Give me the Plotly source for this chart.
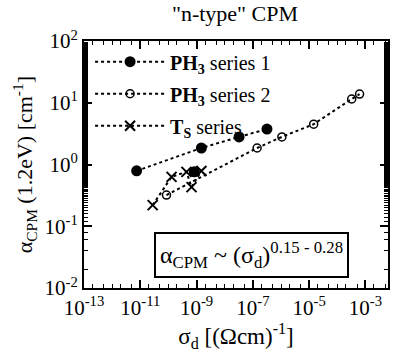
import plotly.graph_objects as go

# data (sigma_d in (Ohm cm)^-1, alpha in cm^-1)
s1_sigma = [10**-11.13, 10**-8.83, 10**-7.49, 10**-6.50]
s1_alpha = [0.79, 1.85, 2.8, 3.75]
s1_extra_sigma = [10**-9.08]
s1_extra_alpha = [0.76]

s2_sigma = [10**-10.07, 10**-6.85, 10**-5.97, 10**-4.84, 10**-3.49, 10**-3.21]
s2_alpha = [0.32, 1.85, 2.8, 4.5, 11.5, 13.8]

ts_sigma = [10**-10.56, 10**-9.89, 10**-9.36, 10**-9.18, 10**-8.83]
ts_alpha = [0.22, 0.63, 0.76, 0.43, 0.785]

x_tickvals = [1e-13, 1e-11, 1e-9, 1e-7, 1e-5, 1e-3]
x_ticktext = ["10<sup>-13</sup>", "10<sup>-11</sup>", "10<sup>-9</sup>", "10<sup>-7</sup>", "10<sup>-5</sup>", "10<sup>-3</sup>"]
y_tickvals = [1e-2, 1e-1, 1e0, 1e1, 1e2]
y_ticktext = ["10<sup>-2</sup>", "10<sup>-1</sup>", "10<sup>0</sup>", "10<sup>1</sup>", "10<sup>2</sup>"]

FONT = "Liberation Serif"
line_style = dict(color="black", width=2, dash="dot")

fig = go.Figure()
fig.add_trace(go.Scatter(x=s1_sigma, y=s1_alpha, mode="lines+markers", name="<b>PH<sub>3</sub></b> series 1",
                         line=line_style, marker=dict(symbol="circle", size=11, color="black"),
                         legendgroup="a"))
fig.add_trace(go.Scatter(x=s1_extra_sigma, y=s1_extra_alpha, mode="markers", showlegend=False,
                         marker=dict(symbol="circle", size=11, color="black")))
fig.add_trace(go.Scatter(x=s2_sigma, y=s2_alpha, mode="lines+markers", name="<b>PH<sub>3</sub></b> series 2",
                         line=line_style,
                         marker=dict(symbol="circle-open", size=8, color="black", line=dict(width=1.5)),
                         legendgroup="b"))
fig.add_trace(go.Scatter(x=ts_sigma, y=ts_alpha, mode="lines+markers", name="<b>T<sub>S</sub></b> series",
                         line=line_style,
                         marker=dict(symbol="x-thin", size=10, color="black", line=dict(width=2, color="black")),
                         legendgroup="c"))

axis_common = dict(type="log", showgrid=False, zeroline=False, showline=True, linecolor="black",
                   linewidth=2, mirror="ticks", ticks="inside", ticklen=8, tickwidth=1.5,
                   tickcolor="black",
                   minor=dict(ticks="inside", ticklen=4, tickwidth=1, tickcolor="black"),
                   tickfont=dict(family=FONT, size=21, color="black"))

fig.update_xaxes(**axis_common, range=[-13, -2.2], tickvals=x_tickvals, ticktext=x_ticktext,
                 title=dict(text="σ<sub>d</sub> [(Ωcm)<sup>-1</sup>]", font=dict(family=FONT, size=23, color="black"),
                            standoff=2))
fig.update_yaxes(**axis_common, range=[-2, 2], tickvals=y_tickvals, ticktext=y_ticktext)

# y-axis title as rotated annotation (placed further left than the default axis title)
fig.add_annotation(xref="paper", yref="paper", x=-0.195, y=0.5, xanchor="center", yanchor="middle",
                   text="α<sub>CPM</sub> (1.2eV) [cm<sup>-1</sup>]", textangle=-90, showarrow=False,
                   font=dict(family=FONT, size=22, color="black"))

fig.add_annotation(xref="paper", yref="paper", x=0.23, y=0.04, xanchor="left", yanchor="bottom",
                   text="α<sub>CPM</sub> ~ (σ<sub>d</sub>)<sup>0.15 - 0.28</sup>", showarrow=False,
                   font=dict(family=FONT, size=24, color="black"),
                   bordercolor="black", borderwidth=2, bgcolor="white", borderpad=4)

fig.update_layout(
    width=393, height=352,
    margin=dict(l=84, r=3, t=41, b=64),
    paper_bgcolor="white", plot_bgcolor="white",
    title=dict(text="\"n-type\" CPM", x=0.598, xanchor="center", y=0.985, yanchor="top",
               font=dict(family=FONT, size=22, color="black")),
    legend=dict(x=0.02, y=0.995, xanchor="left", yanchor="top", bgcolor="rgba(0,0,0,0)",
                font=dict(family=FONT, size=20, color="black"), tracegroupgap=3,
                traceorder="grouped", itemwidth=70),
    showlegend=True,
)

fig.write_html("out.html")
